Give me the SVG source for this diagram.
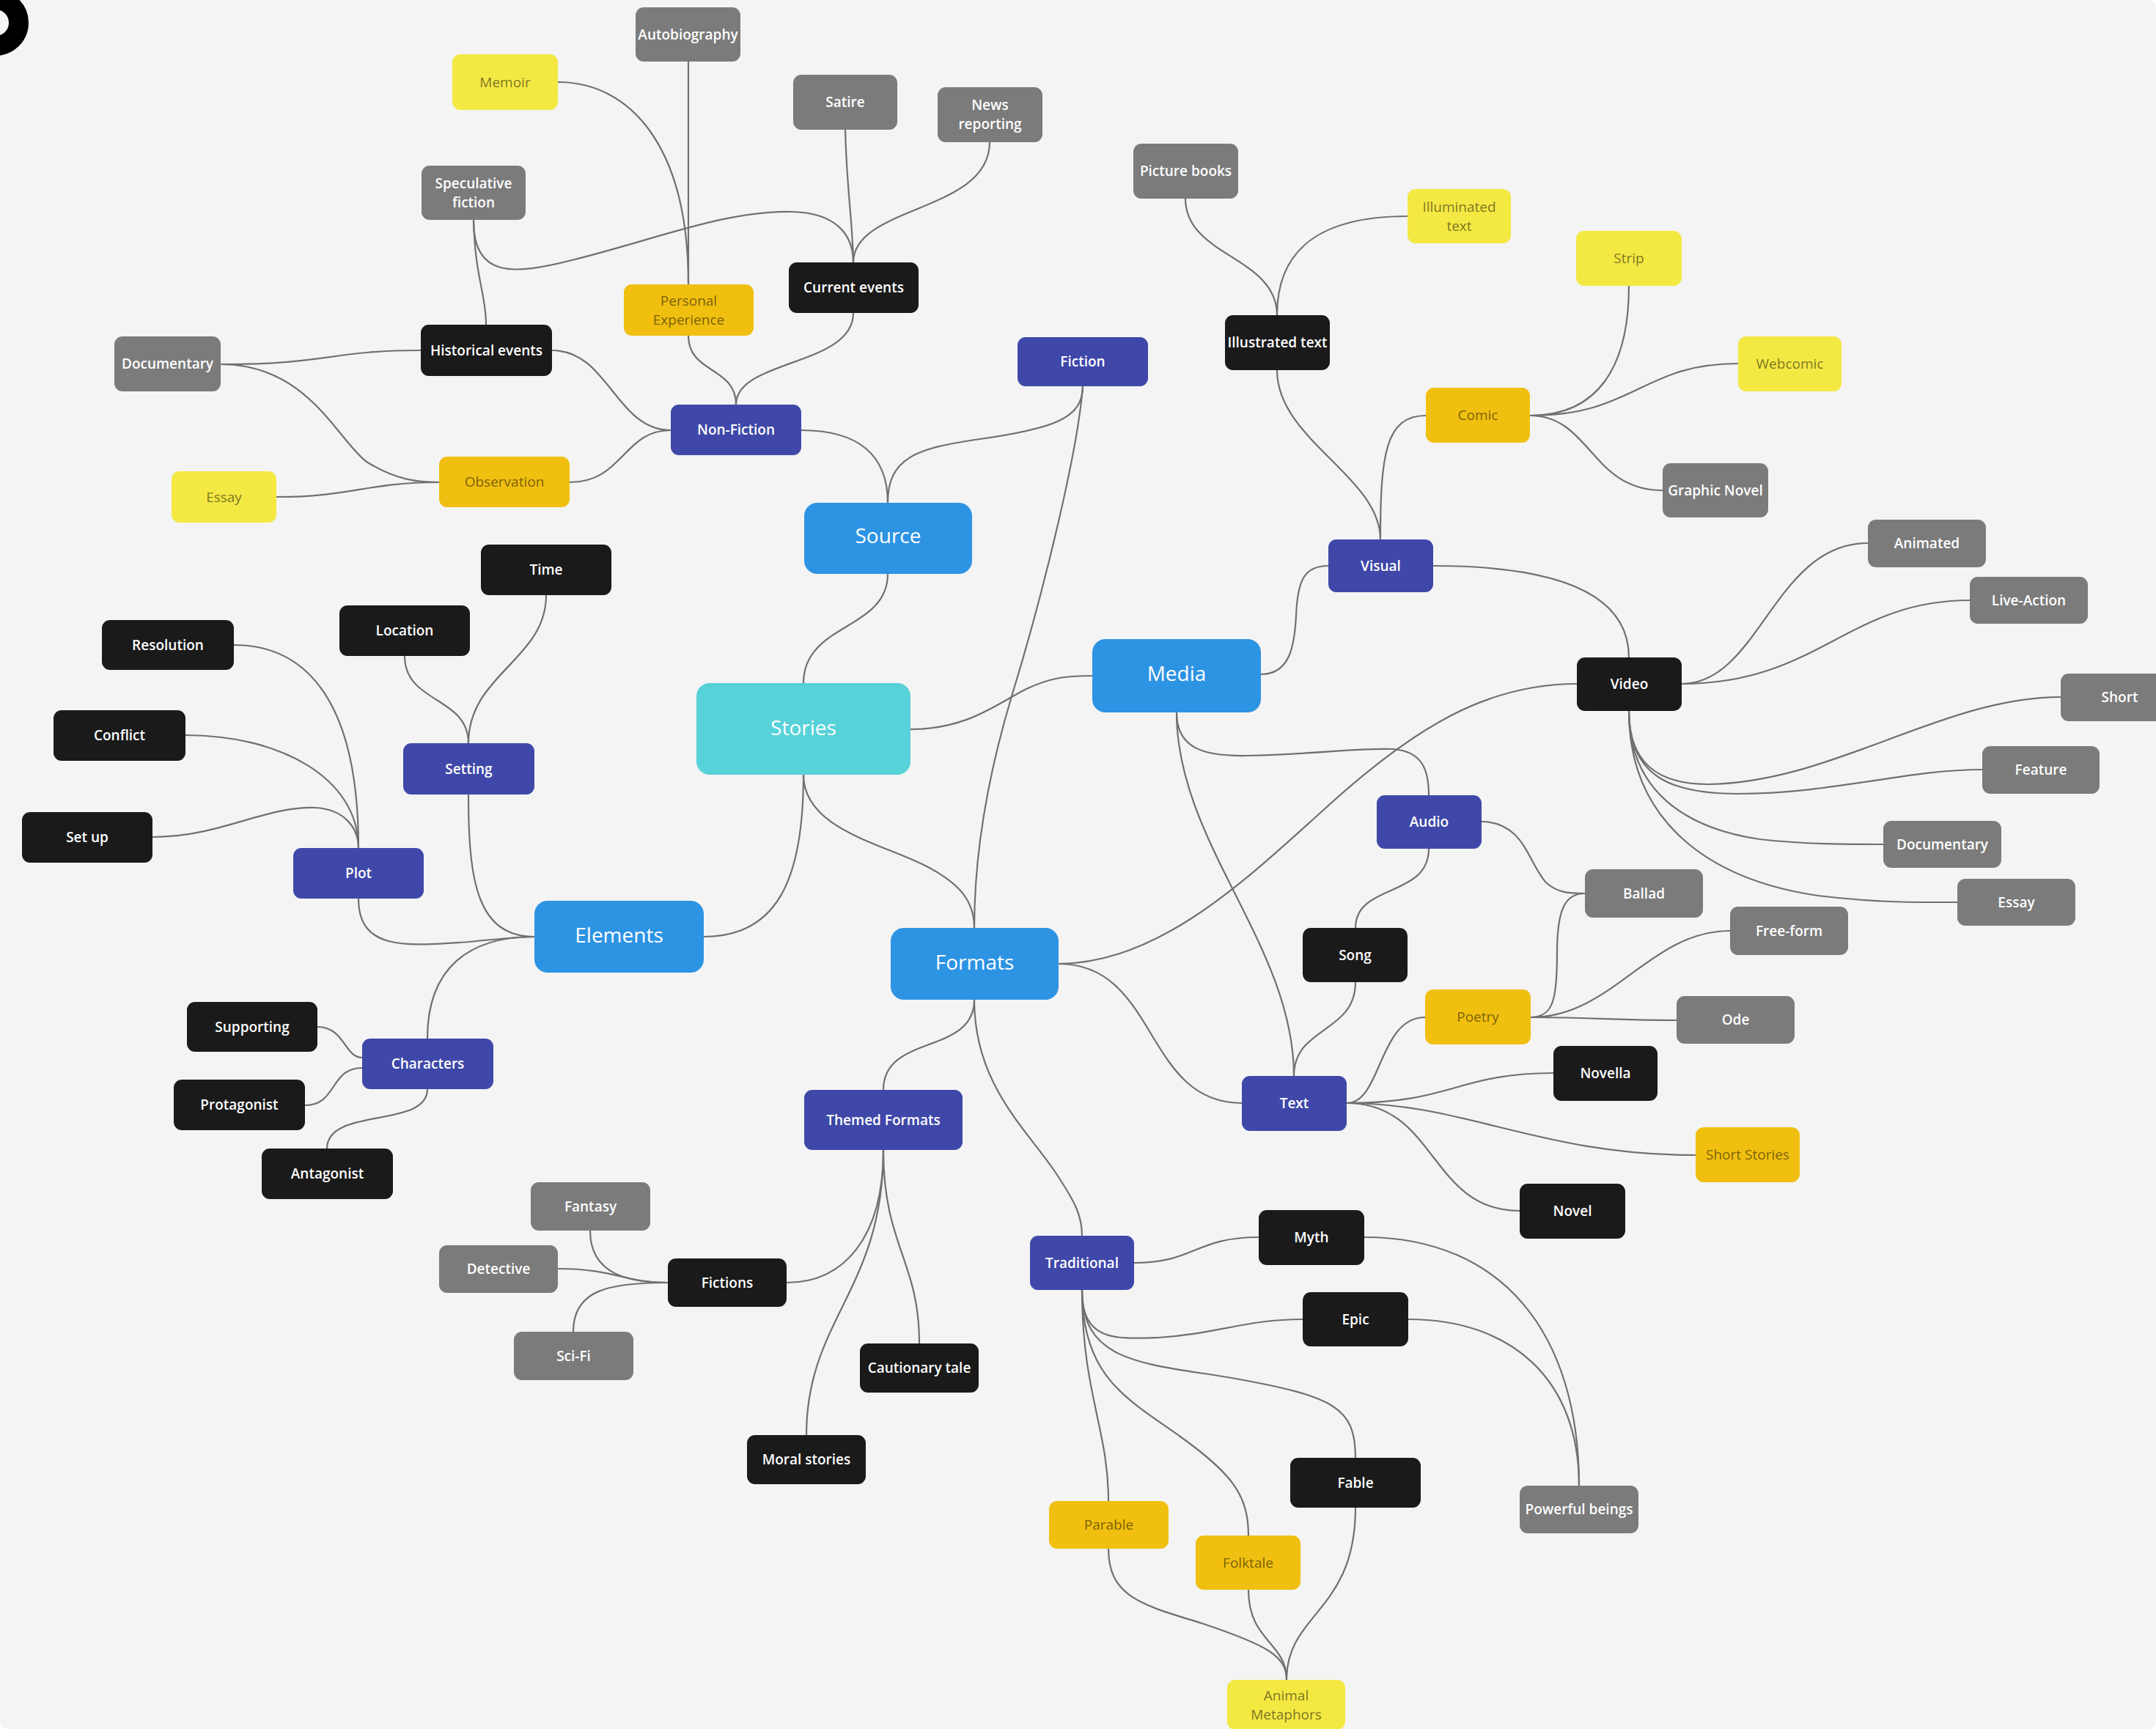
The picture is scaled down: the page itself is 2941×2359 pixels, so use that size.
<svg xmlns="http://www.w3.org/2000/svg" width="2941" height="2359" viewBox="0 0 2941 2359">
  <style>
    .bg { fill: #f4f4f4; }
    .edges path { fill: none; stroke: #707070; stroke-width: 2.2; stroke-linecap: round; }
    rect.main { rx: 18px; ry: 18px; }
    rect { rx: 11px; ry: 11px; }
    .blue { fill: #2d93e3; }
    .teal { fill: #56d2d8; }
    .indigo { fill: #3f48a9; }
    .black { fill: #1a1a1a; }
    .gray { fill: #7b7b7b; }
    .lemon { fill: #f4e843; }
    .gold { fill: #f0bf10; }
    text { font-family: "Open Sans", "Liberation Sans", sans-serif; text-anchor: middle; }
    .tm { font-size: 28px; fill: #ffffff; }
    .tw { font-size: 19px; font-weight: 600; fill: #ffffff; }
    .ty { font-size: 19px; fill: #000000; fill-opacity: 0.52; }
  </style>

  <rect class="bg" x="0" y="0" width="2941" height="2359" rx="0" ry="0"/>

  <!-- corner badge -->
  <circle cx="-6" cy="31" r="31.5" fill="none" stroke="#000000" stroke-width="27"/>

  <g class="edges" id="connectors">
    <path d="M1096,932 C1096,850 1211,860 1211,783"/>
    <path d="M1211,686 C1211,620 1170,587 1093,587"/>
    <path d="M1211,686 C1211,625 1250,612 1330,600 C1440,585 1477,570 1477,527"/>
    <path d="M1477,527 C1470,620 1420,820 1380,950 C1350,1050 1329,1160 1329,1266"/>
    <path d="M1242,995 C1320,995 1360,960 1400,940 C1430,926 1450,922 1490,922"/>
    <path d="M1096,1057 C1096,1200 1060,1278 960,1278"/>
    <path d="M1096,1057 C1096,1130 1200,1150 1260,1180 C1310,1205 1329,1230 1329,1266"/>
    <path d="M1720,920 C1760,920 1766,880 1768,840 C1770,790 1780,772 1812,772"/>
    <path d="M1605,972 C1605,1020 1640,1032 1700,1031 C1800,1029 1850,1020 1900,1022 C1940,1025 1949,1050 1949,1085"/>
    <path d="M1605,972 C1605,1150 1765,1290 1765,1468"/>
    <path d="M1949,1158 C1949,1225 1849,1205 1849,1266"/>
    <path d="M2021,1121 C2080,1121 2085,1180 2110,1205 C2125,1218 2140,1219 2162,1219"/>
    <path d="M1849,1340 C1849,1410 1765,1400 1765,1468"/>
    <path d="M1837,1505 C1885,1505 1880,1388 1944,1388"/>
    <path d="M2088,1388 C2120,1388 2124,1360 2124,1300 C2124,1240 2135,1219 2162,1219"/>
    <path d="M2088,1388 C2200,1388 2250,1270 2360,1270"/>
    <path d="M2088,1388 C2180,1388 2200,1392 2287,1392"/>
    <path d="M1837,1505 C1980,1505 1990,1464 2119,1464"/>
    <path d="M1837,1505 C2000,1505 2100,1576 2313,1576"/>
    <path d="M1837,1505 C1960,1505 1950,1652 2073,1652"/>
    <path d="M1444,1315 C1580,1315 1700,1200 1800,1110 C1930,990 2030,933 2151,933"/>
    <path d="M1444,1315 C1580,1315 1560,1505 1694,1505"/>
    <path d="M1329,1364 C1329,1440 1205,1410 1205,1487"/>
    <path d="M1329,1364 C1329,1480 1400,1540 1440,1600 C1468,1642 1476,1660 1476,1686"/>
    <path d="M1883,736 C1883,650 1742,600 1742,505"/>
    <path d="M1883,736 C1883,620 1890,567 1945,567"/>
    <path d="M1742,430 C1742,350 1617,350 1617,271"/>
    <path d="M1742,430 C1742,340 1800,295 1920,295"/>
    <path d="M2087,567 C2180,567 2222,500 2222,390"/>
    <path d="M2087,567 C2230,567 2240,496 2371,496"/>
    <path d="M2087,567 C2170,567 2170,669 2268,669"/>
    <path d="M1955,772 C2100,772 2222,800 2222,897"/>
    <path d="M2294,933 C2400,933 2420,741 2548,741"/>
    <path d="M2294,933 C2480,933 2520,819 2687,819"/>
    <path d="M2222,970 C2222,1040 2260,1070 2330,1070 C2500,1068 2650,951 2811,951"/>
    <path d="M2222,970 C2222,1060 2280,1083 2370,1083 C2500,1083 2600,1050 2704,1050"/>
    <path d="M2222,970 C2222,1080 2300,1130 2400,1145 C2460,1152 2520,1152 2569,1152"/>
    <path d="M2222,970 C2222,1120 2330,1200 2480,1222 C2560,1232 2620,1231 2670,1231"/>
    <path d="M915,587 C840,587 830,478 753,478"/>
    <path d="M915,587 C850,587 850,658 777,658"/>
    <path d="M1004,552 C1004,500 939,510 939,458"/>
    <path d="M1004,552 C1004,490 1164,500 1164,427"/>
    <path d="M939,388 L939,84"/>
    <path d="M939,388 C939,200 860,112 761,112"/>
    <path d="M1164,358 C1163,300 1155,260 1153,177"/>
    <path d="M1164,358 C1164,280 1350,290 1350,194"/>
    <path d="M646,300 C646,380 700,375 780,355 C900,325 990,287 1080,289 C1140,290 1164,320 1164,358"/>
    <path d="M663,443 C663,400 648,380 646,300"/>
    <path d="M574,478 C450,478 450,497 301,497"/>
    <path d="M599,658 C570,658 540,655 500,630 C460,600 420,497 301,497"/>
    <path d="M599,658 C500,658 480,678 377,678"/>
    <path d="M729,1278 C650,1278 639,1200 639,1084"/>
    <path d="M729,1278 C710,1278 690,1280 640,1285 C560,1290 489,1300 489,1226"/>
    <path d="M729,1278 C640,1278 583,1320 583,1417"/>
    <path d="M639,1014 C639,920 745,900 745,812"/>
    <path d="M639,1014 C639,950 552,960 552,895"/>
    <path d="M489,1157 C489,960 420,880 319,880"/>
    <path d="M489,1157 C489,1060 380,1003 253,1003"/>
    <path d="M489,1157 C489,1130 470,1104 430,1102 C360,1100 300,1142 208,1142"/>
    <path d="M494,1443 C470,1443 470,1401 433,1401"/>
    <path d="M494,1457 C450,1457 460,1508 416,1508"/>
    <path d="M583,1486 C583,1540 446,1510 446,1567"/>
    <path d="M1205,1569 C1205,1690 1150,1750 1073,1750"/>
    <path d="M1205,1569 C1205,1700 1254,1720 1254,1833"/>
    <path d="M1205,1569 C1205,1760 1100,1800 1100,1958"/>
    <path d="M911,1750 C860,1750 805,1740 805,1679"/>
    <path d="M911,1750 C850,1750 840,1731 761,1731"/>
    <path d="M911,1750 C830,1750 782,1760 782,1817"/>
    <path d="M1547,1723 C1630,1723 1630,1688 1717,1688"/>
    <path d="M1476,1760 C1476,1830 1520,1827 1580,1825 C1660,1820 1700,1800 1777,1800"/>
    <path d="M1476,1760 C1476,1860 1560,1860 1680,1880 C1820,1905 1849,1920 1849,1989"/>
    <path d="M1476,1760 C1476,1880 1540,1910 1610,1960 C1680,2010 1703,2040 1703,2095"/>
    <path d="M1476,1760 C1476,1900 1512,1950 1512,2048"/>
    <path d="M1861,1688 C2050,1688 2154,1820 2154,2027"/>
    <path d="M1921,1800 C2060,1800 2154,1880 2154,2027"/>
    <path d="M1512,2113 C1512,2180 1560,2190 1640,2215 C1730,2245 1755,2260 1755,2292"/>
    <path d="M1703,2169 C1703,2240 1755,2240 1755,2292"/>
    <path d="M1849,2057 C1849,2200 1755,2200 1755,2292"/>
  </g>

  <!-- core nodes -->
  <g id="node-source"><rect class="main blue" x="1097" y="686" width="229" height="97"/><text class="tm" x="1211.5" y="741">Source</text></g>
  <g id="node-stories"><rect class="main teal" x="950" y="932" width="292" height="125"/><text class="tm" x="1096" y="1003">Stories</text></g>
  <g id="node-media"><rect class="main blue" x="1490" y="872" width="230" height="100"/><text class="tm" x="1605" y="929">Media</text></g>
  <g id="node-elements"><rect class="main blue" x="729" y="1229" width="231" height="98"/><text class="tm" x="844.5" y="1286">Elements</text></g>
  <g id="node-formats"><rect class="main blue" x="1215" y="1266" width="229" height="98"/><text class="tm" x="1329.5" y="1323">Formats</text></g>

  <!-- branch nodes -->
  <g id="node-non-fiction"><rect class="indigo" x="915" y="552" width="178" height="69"/><text class="tw" x="1004" y="593">Non-Fiction</text></g>
  <g id="node-fiction"><rect class="indigo" x="1388" y="460" width="178" height="67"/><text class="tw" x="1477" y="500">Fiction</text></g>
  <g id="node-visual"><rect class="indigo" x="1812" y="736" width="143" height="72"/><text class="tw" x="1883.5" y="778.5">Visual</text></g>
  <g id="node-audio"><rect class="indigo" x="1878" y="1085" width="143" height="73"/><text class="tw" x="1949.5" y="1128">Audio</text></g>
  <g id="node-text"><rect class="indigo" x="1694" y="1468" width="143" height="75"/><text class="tw" x="1765.5" y="1512">Text</text></g>
  <g id="node-setting"><rect class="indigo" x="550" y="1014" width="179" height="70"/><text class="tw" x="639.5" y="1055.5">Setting</text></g>
  <g id="node-plot"><rect class="indigo" x="400" y="1157" width="178" height="69"/><text class="tw" x="489" y="1198">Plot</text></g>
  <g id="node-characters"><rect class="indigo" x="494" y="1417" width="179" height="69"/><text class="tw" x="583.5" y="1458">Characters</text></g>
  <g id="node-themed-formats"><rect class="indigo" x="1097" y="1487" width="216" height="82"/><text class="tw" x="1205" y="1534.5">Themed Formats</text></g>
  <g id="node-traditional"><rect class="indigo" x="1405" y="1686" width="142" height="74"/><text class="tw" x="1476" y="1729.5">Traditional</text></g>

  <!-- leaf nodes: dark -->
  <g id="node-historical-events"><rect class="black" x="574" y="443" width="179" height="70"/><text class="tw" x="663.5" y="484.5">Historical events</text></g>
  <g id="node-current-events"><rect class="black" x="1076" y="358" width="177" height="69"/><text class="tw" x="1164.5" y="399">Current events</text></g>
  <g id="node-illustrated-text"><rect class="black" x="1671" y="430" width="143" height="75"/><text class="tw" x="1742.5" y="474">Illustrated text</text></g>
  <g id="node-time"><rect class="black" x="656" y="743" width="178" height="69"/><text class="tw" x="745" y="784">Time</text></g>
  <g id="node-location"><rect class="black" x="463" y="826" width="178" height="69"/><text class="tw" x="552" y="867">Location</text></g>
  <g id="node-resolution"><rect class="black" x="139" y="846" width="180" height="68"/><text class="tw" x="229" y="886.5">Resolution</text></g>
  <g id="node-conflict"><rect class="black" x="73" y="969" width="180" height="69"/><text class="tw" x="163" y="1010">Conflict</text></g>
  <g id="node-set-up"><rect class="black" x="30" y="1108" width="178" height="69"/><text class="tw" x="119" y="1149">Set up</text></g>
  <g id="node-supporting"><rect class="black" x="255" y="1367" width="178" height="68"/><text class="tw" x="344" y="1407.5">Supporting</text></g>
  <g id="node-protagonist"><rect class="black" x="237" y="1473" width="179" height="69"/><text class="tw" x="326.5" y="1514">Protagonist</text></g>
  <g id="node-antagonist"><rect class="black" x="357" y="1567" width="179" height="69"/><text class="tw" x="446.5" y="1608">Antagonist</text></g>
  <g id="node-video"><rect class="black" x="2151" y="897" width="143" height="73"/><text class="tw" x="2222.5" y="940">Video</text></g>
  <g id="node-song"><rect class="black" x="1777" y="1266" width="143" height="74"/><text class="tw" x="1848.5" y="1309.5">Song</text></g>
  <g id="node-novella"><rect class="black" x="2119" y="1427" width="142" height="75"/><text class="tw" x="2190" y="1471">Novella</text></g>
  <g id="node-novel"><rect class="black" x="2073" y="1615" width="144" height="75"/><text class="tw" x="2145" y="1659">Novel</text></g>
  <g id="node-fictions"><rect class="black" x="911" y="1717" width="162" height="66"/><text class="tw" x="992" y="1756.5">Fictions</text></g>
  <g id="node-cautionary-tale"><rect class="black" x="1173" y="1833" width="162" height="67"/><text class="tw" x="1254" y="1873">Cautionary tale</text></g>
  <g id="node-moral-stories"><rect class="black" x="1019" y="1958" width="162" height="67"/><text class="tw" x="1100" y="1998">Moral stories</text></g>
  <g id="node-myth"><rect class="black" x="1717" y="1651" width="144" height="75"/><text class="tw" x="1789" y="1695">Myth</text></g>
  <g id="node-epic"><rect class="black" x="1777" y="1763" width="144" height="74"/><text class="tw" x="1849" y="1806.5">Epic</text></g>
  <g id="node-fable"><rect class="black" x="1760" y="1989" width="178" height="68"/><text class="tw" x="1849" y="2029.5">Fable</text></g>

  <!-- leaf nodes: grey -->
  <g id="node-autobiography"><rect class="gray" x="867" y="10" width="143" height="74"/><text class="tw" x="938.5" y="53.5">Autobiography</text></g>
  <g id="node-satire"><rect class="gray" x="1082" y="102" width="142" height="75"/><text class="tw" x="1153" y="146">Satire</text></g>
  <g id="node-news-reporting"><rect class="gray" x="1279" y="119" width="143" height="75"/><text class="tw" x="1350.5" y="150">News</text><text class="tw" x="1350.5" y="176">reporting</text></g>
  <g id="node-speculative-fiction"><rect class="gray" x="575" y="226" width="142" height="74"/><text class="tw" x="646" y="256.5">Speculative</text><text class="tw" x="646" y="282.5">fiction</text></g>
  <g id="node-documentary-nf"><rect class="gray" x="156" y="459" width="145" height="75"/><text class="tw" x="228.5" y="503">Documentary</text></g>
  <g id="node-picture-books"><rect class="gray" x="1546" y="196" width="143" height="75"/><text class="tw" x="1617.5" y="240">Picture books</text></g>
  <g id="node-graphic-novel"><rect class="gray" x="2268" y="632" width="144" height="74"/><text class="tw" x="2340" y="675.5">Graphic Novel</text></g>
  <g id="node-animated"><rect class="gray" x="2548" y="709" width="161" height="65"/><text class="tw" x="2628.5" y="748">Animated</text></g>
  <g id="node-live-action"><rect class="gray" x="2687" y="787" width="161" height="64"/><text class="tw" x="2767.5" y="825.5">Live-Action</text></g>
  <g id="node-short"><rect class="gray" x="2811" y="919" width="161" height="65"/><text class="tw" x="2891.5" y="958">Short</text></g>
  <g id="node-feature"><rect class="gray" x="2704" y="1018" width="160" height="65"/><text class="tw" x="2784" y="1057">Feature</text></g>
  <g id="node-documentary-video"><rect class="gray" x="2569" y="1120" width="161" height="64"/><text class="tw" x="2649.5" y="1158.5">Documentary</text></g>
  <g id="node-essay-video"><rect class="gray" x="2670" y="1199" width="161" height="64"/><text class="tw" x="2750.5" y="1237.5">Essay</text></g>
  <g id="node-ballad"><rect class="gray" x="2162" y="1186" width="161" height="66"/><text class="tw" x="2242.5" y="1225.5">Ballad</text></g>
  <g id="node-free-form"><rect class="gray" x="2360" y="1237" width="161" height="66"/><text class="tw" x="2440.5" y="1276.5">Free-form</text></g>
  <g id="node-ode"><rect class="gray" x="2287" y="1359" width="161" height="65"/><text class="tw" x="2367.5" y="1398">Ode</text></g>
  <g id="node-fantasy"><rect class="gray" x="724" y="1613" width="163" height="66"/><text class="tw" x="805.5" y="1652.5">Fantasy</text></g>
  <g id="node-detective"><rect class="gray" x="599" y="1699" width="162" height="65"/><text class="tw" x="680" y="1738">Detective</text></g>
  <g id="node-sci-fi"><rect class="gray" x="701" y="1817" width="163" height="66"/><text class="tw" x="782.5" y="1856.5">Sci-Fi</text></g>
  <g id="node-powerful-beings"><rect class="gray" x="2073" y="2027" width="162" height="65"/><text class="tw" x="2154" y="2066">Powerful beings</text></g>

  <!-- leaf nodes: yellow -->
  <g id="node-memoir"><rect class="lemon" x="617" y="74" width="144" height="76"/><text class="ty" x="689" y="118.5">Memoir</text></g>
  <g id="node-essay-nf"><rect class="lemon" x="234" y="643" width="143" height="70"/><text class="ty" x="305.5" y="684.5">Essay</text></g>
  <g id="node-illuminated-text"><rect class="lemon" x="1920" y="258" width="141" height="74"/><text class="ty" x="1990.5" y="288.5">Illuminated</text><text class="ty" x="1990.5" y="314.5">text</text></g>
  <g id="node-strip"><rect class="lemon" x="2150" y="315" width="144" height="75"/><text class="ty" x="2222" y="359">Strip</text></g>
  <g id="node-webcomic"><rect class="lemon" x="2371" y="459" width="141" height="75"/><text class="ty" x="2441.5" y="503">Webcomic</text></g>
  <g id="node-animal-metaphors"><rect class="lemon" x="1674" y="2292" width="161" height="68"/><text class="ty" x="1754.5" y="2319.5">Animal</text><text class="ty" x="1754.5" y="2345.5">Metaphors</text></g>

  <g id="node-personal-experience"><rect class="gold" x="851" y="388" width="177" height="70"/><text class="ty" x="939.5" y="416.5">Personal</text><text class="ty" x="939.5" y="442.5">Experience</text></g>
  <g id="node-observation"><rect class="gold" x="599" y="623" width="178" height="69"/><text class="ty" x="688" y="664">Observation</text></g>
  <g id="node-comic"><rect class="gold" x="1945" y="529" width="142" height="75"/><text class="ty" x="2016" y="573">Comic</text></g>
  <g id="node-poetry"><rect class="gold" x="1944" y="1350" width="144" height="75"/><text class="ty" x="2016" y="1394">Poetry</text></g>
  <g id="node-short-stories"><rect class="gold" x="2313" y="1538" width="142" height="75"/><text class="ty" x="2384" y="1582">Short Stories</text></g>
  <g id="node-parable"><rect class="gold" x="1431" y="2048" width="163" height="65"/><text class="ty" x="1512.5" y="2087">Parable</text></g>
  <g id="node-folktale"><rect class="gold" x="1631" y="2095" width="143" height="74"/><text class="ty" x="1702.5" y="2138.5">Folktale</text></g>
</svg>
